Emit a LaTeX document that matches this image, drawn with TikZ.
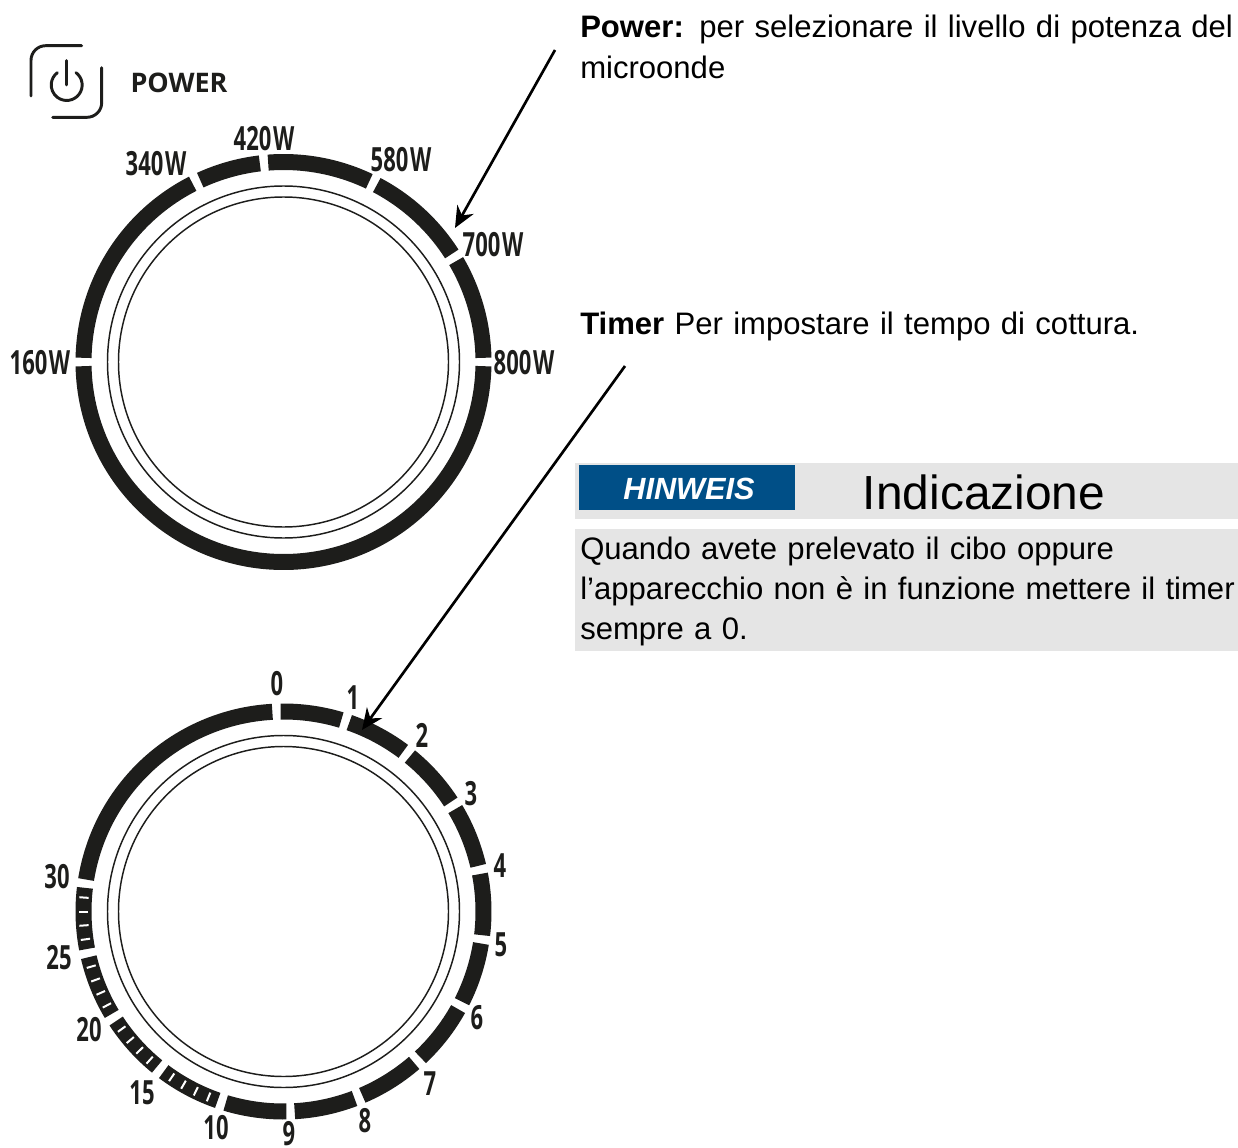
\documentclass[tikz,border=0pt]{standalone}
\usepackage{fontspec}
\usetikzlibrary{arrows.meta}
\setmainfont{Liberation Sans}
\newfontfamily\dialfont[FakeStretch=0.66]{Open Sans}
\newfontfamily\powfont{Open Sans}
\definecolor{ink}{HTML}{1D1D1B}
\definecolor{band}{HTML}{E5E5E5}
\definecolor{hinw}{HTML}{004F87}
\newcommand{\dlab}{\fontsize{25pt}{26pt}\selectfont\dialfont\bfseries}
\newcommand{\body}{\fontsize{23.3pt}{30.75pt}\selectfont}
\newcommand{\wsp}{\kern1.2pt}
\tikzset{
  seg/.style={draw=ink,line width=12pt,line cap=butt},
  thin/.style={draw=ink,line width=1.1pt},
  tick/.style={draw=white,line width=1.5pt},
  lab/.style={text=ink,inner sep=0pt,font=\dlab},
  txt/.style={anchor=north west,inner sep=0pt,align=left,text=black,font=\body},
  ptr/.style={draw=black,line width=2pt,-{Stealth[length=16pt,width=14pt]}},
  icon/.style={draw=ink,line width=2.2pt,line cap=round}
}
\begin{document}
\begin{tikzpicture}[x=.75pt,y=-.75pt]
\useasboundingbox (0,0) rectangle (1238,1148);
% ---- power dial
\begin{scope}[shift={(283.5,362)},y=.75pt]
  \draw[thin] (0,0) circle[radius=132pt];
  \draw[thin] (0,0) circle[radius=123.75pt];
  \foreach \a/\b in {1.2/30.3,32.7/62.2,64.6/94.4,96.8/114.6,117/178.8,181.2/358.8}
    \draw[seg] (\a:150pt) arc[start angle=\a,end angle=\b,radius=150pt];
\end{scope}
% ---- timer dial
\begin{scope}[shift={(283.5,911.5)},y=.75pt]
  \draw[thin] (0,0) circle[radius=132pt];
  \draw[thin] (0,0) circle[radius=123.75pt];
  \foreach \a/\b in {13.2/30.8,33.2/50.8,53.2/70.8,73.2/90.8,93.2/170.8,-6.8/10.8,-26.8/-9.2,-46.8/-29.2,-66.8/-49.2,-86.8/-69.2,-106.8/-89.2,
      -126.8/-109.2,-146.8/-129.2,-166.8/-149.2,-186.8/-169.2}
    \draw[seg] (\a:150pt) arc[start angle=\a,end angle=\b,radius=150pt];
  \foreach \s in {-108,-128,-148,-168}
    \foreach \k in {1,2,3,4}
      \draw[tick] ({\s-4*\k}:146.5pt) -- ({\s-4*\k}:153.5pt);
\end{scope}
% ---- power icon
\draw[icon,rounded corners=11pt] (81.7,45.7) -- (31,45.7) -- (31,96);
\draw[icon,rounded corners=11pt] (101.7,67.7) -- (101.7,117.3) -- (52.7,117.3);
\begin{scope}[shift={(66.7,85)},y=.75pt]
  \draw[icon] (53:11.6pt) arc[start angle=53,end angle=-233,radius=11.6pt];
\end{scope}
\coordinate (pA) at (66.7,60.7);
\coordinate (pB) at (66.7,85);
\draw[icon] (pA) -- (pB);
\node[inner sep=0pt,text=ink,font=\fontsize{20.2pt}{23pt}\selectfont\powfont\bfseries] (powerlab) at (179,83) {POWER};
% ---- power dial labels
\node[lab] (w160) at (40,363) {160\wsp W};
\node[lab] (w340) at (156,164) {340\wsp W};
\node[lab] (w420) at (264,139) {420\wsp W};
\node[lab] (w580) at (401,160) {580\wsp W};
\node[lab] (w700) at (493,245) {700\wsp W};
\node[lab] (w800) at (524,363) {800\wsp W};
% ---- timer labels
\node[lab] (t0) at (277,684) {0};
\node[lab] (t1) at (353,698) {1};
\node[lab] (t2) at (422,735) {2};
\node[lab] (t3) at (471,794) {3};
\node[lab] (t4) at (500,866) {4};
\node[lab] (t5) at (501,945) {5};
\node[lab] (t6) at (477,1018) {6};
\node[lab] (t7) at (430,1084) {7};
\node[lab] (t8) at (365,1121) {8};
\node[lab] (t9) at (289,1134) {9};
\node[lab] (t10) at (216,1128) {10};
\node[lab] (t15) at (142,1093) {15};
\node[lab] (t20) at (89,1030) {20};
\node[lab] (t25) at (59,958) {25};
\node[lab] (t30) at (57,877) {30};
% ---- right column
\node[txt,text width=520pt] (ptext) at (580,15) {\textbf{Power:} per selezionare il livello di potenza del\\microonde};
\node[txt,text width=520pt] (ttext) at (580,312) {\textbf{Timer} Per impostare il tempo di cottura.};
\fill[band] (575,463) rectangle (1238,519);
\fill[band] (575,529) rectangle (1238,651);
\fill[hinw] (579,465) rectangle (795,510);
\node[inner sep=0pt,text=white,font=\fontsize{23pt}{25pt}\selectfont\bfseries\itshape] (hinweis) at (689,489) {HINWEIS};
\node[inner sep=0pt,text=black,font=\fontsize{35.9pt}{38pt}\selectfont] (indic) at (984,492) {Indicazione};
\node[txt,text width=520pt,font=\fontsize{23.3pt}{30pt}\selectfont] (ntext) at (580,537) {Quando avete prelevato il cibo oppure\\l’apparecchio non è in funzione mettere il timer\\sempre a 0.};
% ---- pointers
\coordinate (a1s) at (555,50);
\coordinate (a1e) at (455,228);
\coordinate (a2s) at (625,366);
\coordinate (a2e) at (362,730);
\draw[ptr] (a1s) -- (a1e);
\draw[ptr] (a2s) -- (a2e);
\end{tikzpicture}
\end{document}
